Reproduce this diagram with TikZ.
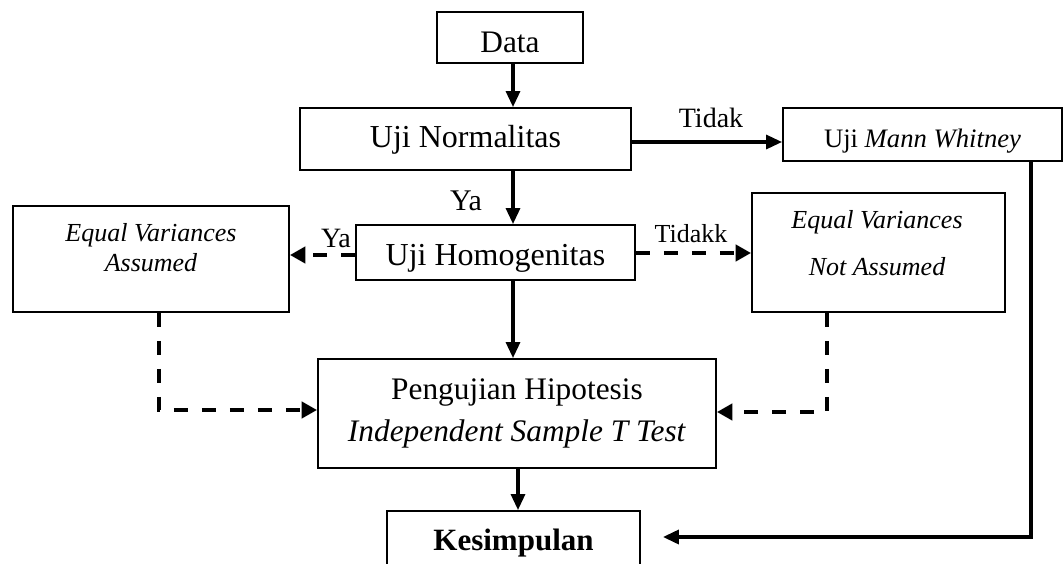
\documentclass[tikz,border=0pt]{standalone}
\usepackage{fontspec}
\setmainfont{Liberation Serif}
\usetikzlibrary{arrows.meta}
\begin{document}
\begin{tikzpicture}[x=0.75pt,y=-0.75pt,
  box/.style={draw=black,line width=1.4pt,inner sep=0pt,align=center},
  arr/.style={line width=2.4pt,-{Triangle[length=12pt,width=10.5pt]}},
  darr/.style={line width=3pt,dash pattern=on 10.5pt off 10.5pt,-{Triangle[length=11.5pt,width=12pt]}},
  lab/.style={inner sep=0pt},
  fbig/.style={font=\fontsize{23.5pt}{28pt}\selectfont},
  fmid/.style={font=\fontsize{20pt}{24pt}\selectfont},
  fsml/.style={font=\fontsize{19.5pt}{24pt}\selectfont\itshape}]
\useasboundingbox (0,0) rectangle (1064,564);
\fill[white] (0,0) rectangle (1064,564);

% boxes
\node[box,fbig,minimum width=109.5pt,minimum height=38.25pt,text height=21.75pt,text depth=0pt] (data) at (510,37.5) {Data};
\node[box,fbig,font=\fontsize{24pt}{28pt}\selectfont,minimum width=248.25pt,minimum height=46.5pt,text height=12pt,text depth=0pt] (norm) at (465.5,139) {Uji Normalitas};
\node[box,font=\fontsize{24pt}{28pt}\selectfont,minimum width=209.25pt,minimum height=41.25pt,text height=18.75pt,text depth=0pt] (homog) at (495.5,252.5) {Uji Homogenitas};
\node[box,fmid,minimum width=209.25pt,minimum height=39.75pt,text height=18.75pt,text depth=0pt] (mann) at (922.5,134.5) {Uji \textit{Mann Whitney}};
\node[box,minimum width=207pt,minimum height=79.5pt] (eva) at (151,259) {};
\node[box,minimum width=189.75pt,minimum height=89.25pt] (evna) at (878.5,252.5) {};
\node[box,font=\fontsize{23.5pt}{31.5pt}\selectfont,minimum width=298.5pt,minimum height=81.75pt] (peng) at (517,413.5) {Pengujian Hipotesis\\\textit{Independent Sample T Test}};
\node[box,font=\fontsize{23.25pt}{28pt}\selectfont\bfseries,minimum width=189.75pt,minimum height=41.25pt,text height=17.25pt,text depth=0pt] (kes) at (513.5,538.5) {Kesimpulan};

% texts inside the variance boxes
\node[lab,fsml,anchor=base] (eva1) at (151,241) {Equal Variances};
\node[lab,fsml,anchor=base] (eva2) at (151,271) {Assumed};
\node[lab,fsml,anchor=base] (evna1) at (877,228) {Equal Variances};
\node[lab,fsml,anchor=base] (evna2) at (877,275) {Not Assumed};

% labels
\node[lab,font=\fontsize{21pt}{24pt}\selectfont,anchor=base] (ltidak) at (711,127) {Tidak};
\node[lab,font=\fontsize{19.5pt}{24pt}\selectfont,anchor=base] (ltidakk) at (691,242) {Tidakk};
\node[lab,font=\fontsize{21pt}{24pt}\selectfont,anchor=base] (lya1) at (336,247) {Ya};
\node[lab,font=\fontsize{22.5pt}{24pt}\selectfont,anchor=base] (lya2) at (466,210) {Ya};

% solid connectors
\draw[arr] (data.south -| 513,0) -- (norm.north -| 513,0);
\draw[arr] (norm.south -| 513,0) -- (homog.north -| 513,0);
\draw[arr] (homog.south -| 513,0) -- (peng.north -| 513,0);
\draw[arr] (peng.south -| 518,0) -- (kes.north -| 518,0);
\draw[arr] (norm.east |- 0,142) -- (mann.west |- 0,142);
\draw[arr,line width=2.6pt,shorten >=16.5pt] (mann.south -| 1031,0) |- (kes.east |- 0,537);

% dashed connectors
\draw[darr] (homog.west |- 0,255) -- (eva.east |- 0,255);
\draw[darr] (homog.east |- 0,253) -- (evna.west |- 0,253);
\draw[darr] (eva.south -| 159,0) |- (peng.west |- 0,410);
\draw[darr] (evna.south -| 827,0) |- (peng.east |- 0,412);
\end{tikzpicture}
\end{document}
